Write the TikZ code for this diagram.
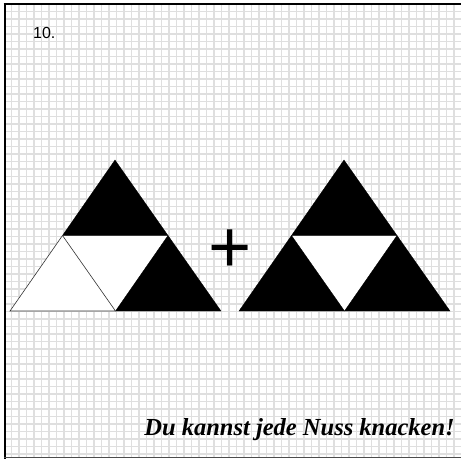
\documentclass[tikz,border=0pt]{standalone}
\usepackage{fontspec}
\setmainfont{Liberation Serif}
\newfontfamily\arialfont{Liberation Sans}
\tikzset{
  gridline/.style={draw=gray!25, line width=1.8pt},
  blacktri/.style={fill=black, draw=black, line width=0.3pt},
  whitetri/.style={fill=white, draw=black!80, line width=0.6pt},
}
\begin{document}
\begin{tikzpicture}[x=1pt,y=-1pt]
\useasboundingbox (0,0) rectangle (461,459);
\fill[white] (0,0) rectangle (461,459);
% grid
\begin{scope}
\clip (4,4) rectangle (461,457);
\foreach \i in {0,...,61} {
  \draw[gridline] ({4+7.5*\i},4) -- ({4+7.5*\i},459);
  \draw[gridline] (4,{4+7.5*\i}) -- (461,{4+7.5*\i});
}
\end{scope}
% frame
\draw[black, line width=2.6pt] (3.5,4) -- (461,4);
\draw[black, line width=2.8pt] (5,4) -- (5,459);
\draw[black!70, line width=0.8pt] (4,457.6) -- (461,457.6);
% left triangle
\coordinate (la) at (115,160);
\coordinate (ll) at (10,311);
\coordinate (lr) at (221,311);
\coordinate (lml) at (62.5,235.5);
\coordinate (lmr) at (168,235.5);
\coordinate (lmb) at (115.5,311);
\fill[white] (la) -- (ll) -- (lr) -- cycle;
\draw[blacktri] (la) -- (lml) -- (lmr) -- cycle;
\draw[blacktri] (lmr) -- (lmb) -- (lr) -- cycle;
\draw[whitetri] (lml) -- (ll) -- (lmb) -- cycle;
% right triangle
\coordinate (ra) at (344,160);
\coordinate (rl) at (239,311);
\coordinate (rr) at (450,311);
\coordinate (rml) at (291.5,235.5);
\coordinate (rmr) at (397,235.5);
\coordinate (rmb) at (344.5,311);
\fill[white] (ra) -- (rl) -- (rr) -- cycle;
\draw[blacktri] (ra) -- (rml) -- (rmr) -- cycle;
\draw[blacktri] (rml) -- (rl) -- (rmb) -- cycle;
\draw[blacktri] (rmr) -- (rmb) -- (rr) -- cycle;
% texts
\node[anchor=base west, inner sep=0pt, font=\arialfont\fontsize{16}{19}\selectfont] (num) at (33,38.5) {10.};
\node[anchor=base, inner sep=0pt, font=\arialfont\fontsize{74}{80}\selectfont] (plus) at (230,272) {+};
\node[anchor=base east, inner sep=0pt, font=\bfseries\itshape\fontsize{24.5}{28}\selectfont] (motto) at (455,435) {Du kannst jede Nuss knacken!};
\end{tikzpicture}
\end{document}
